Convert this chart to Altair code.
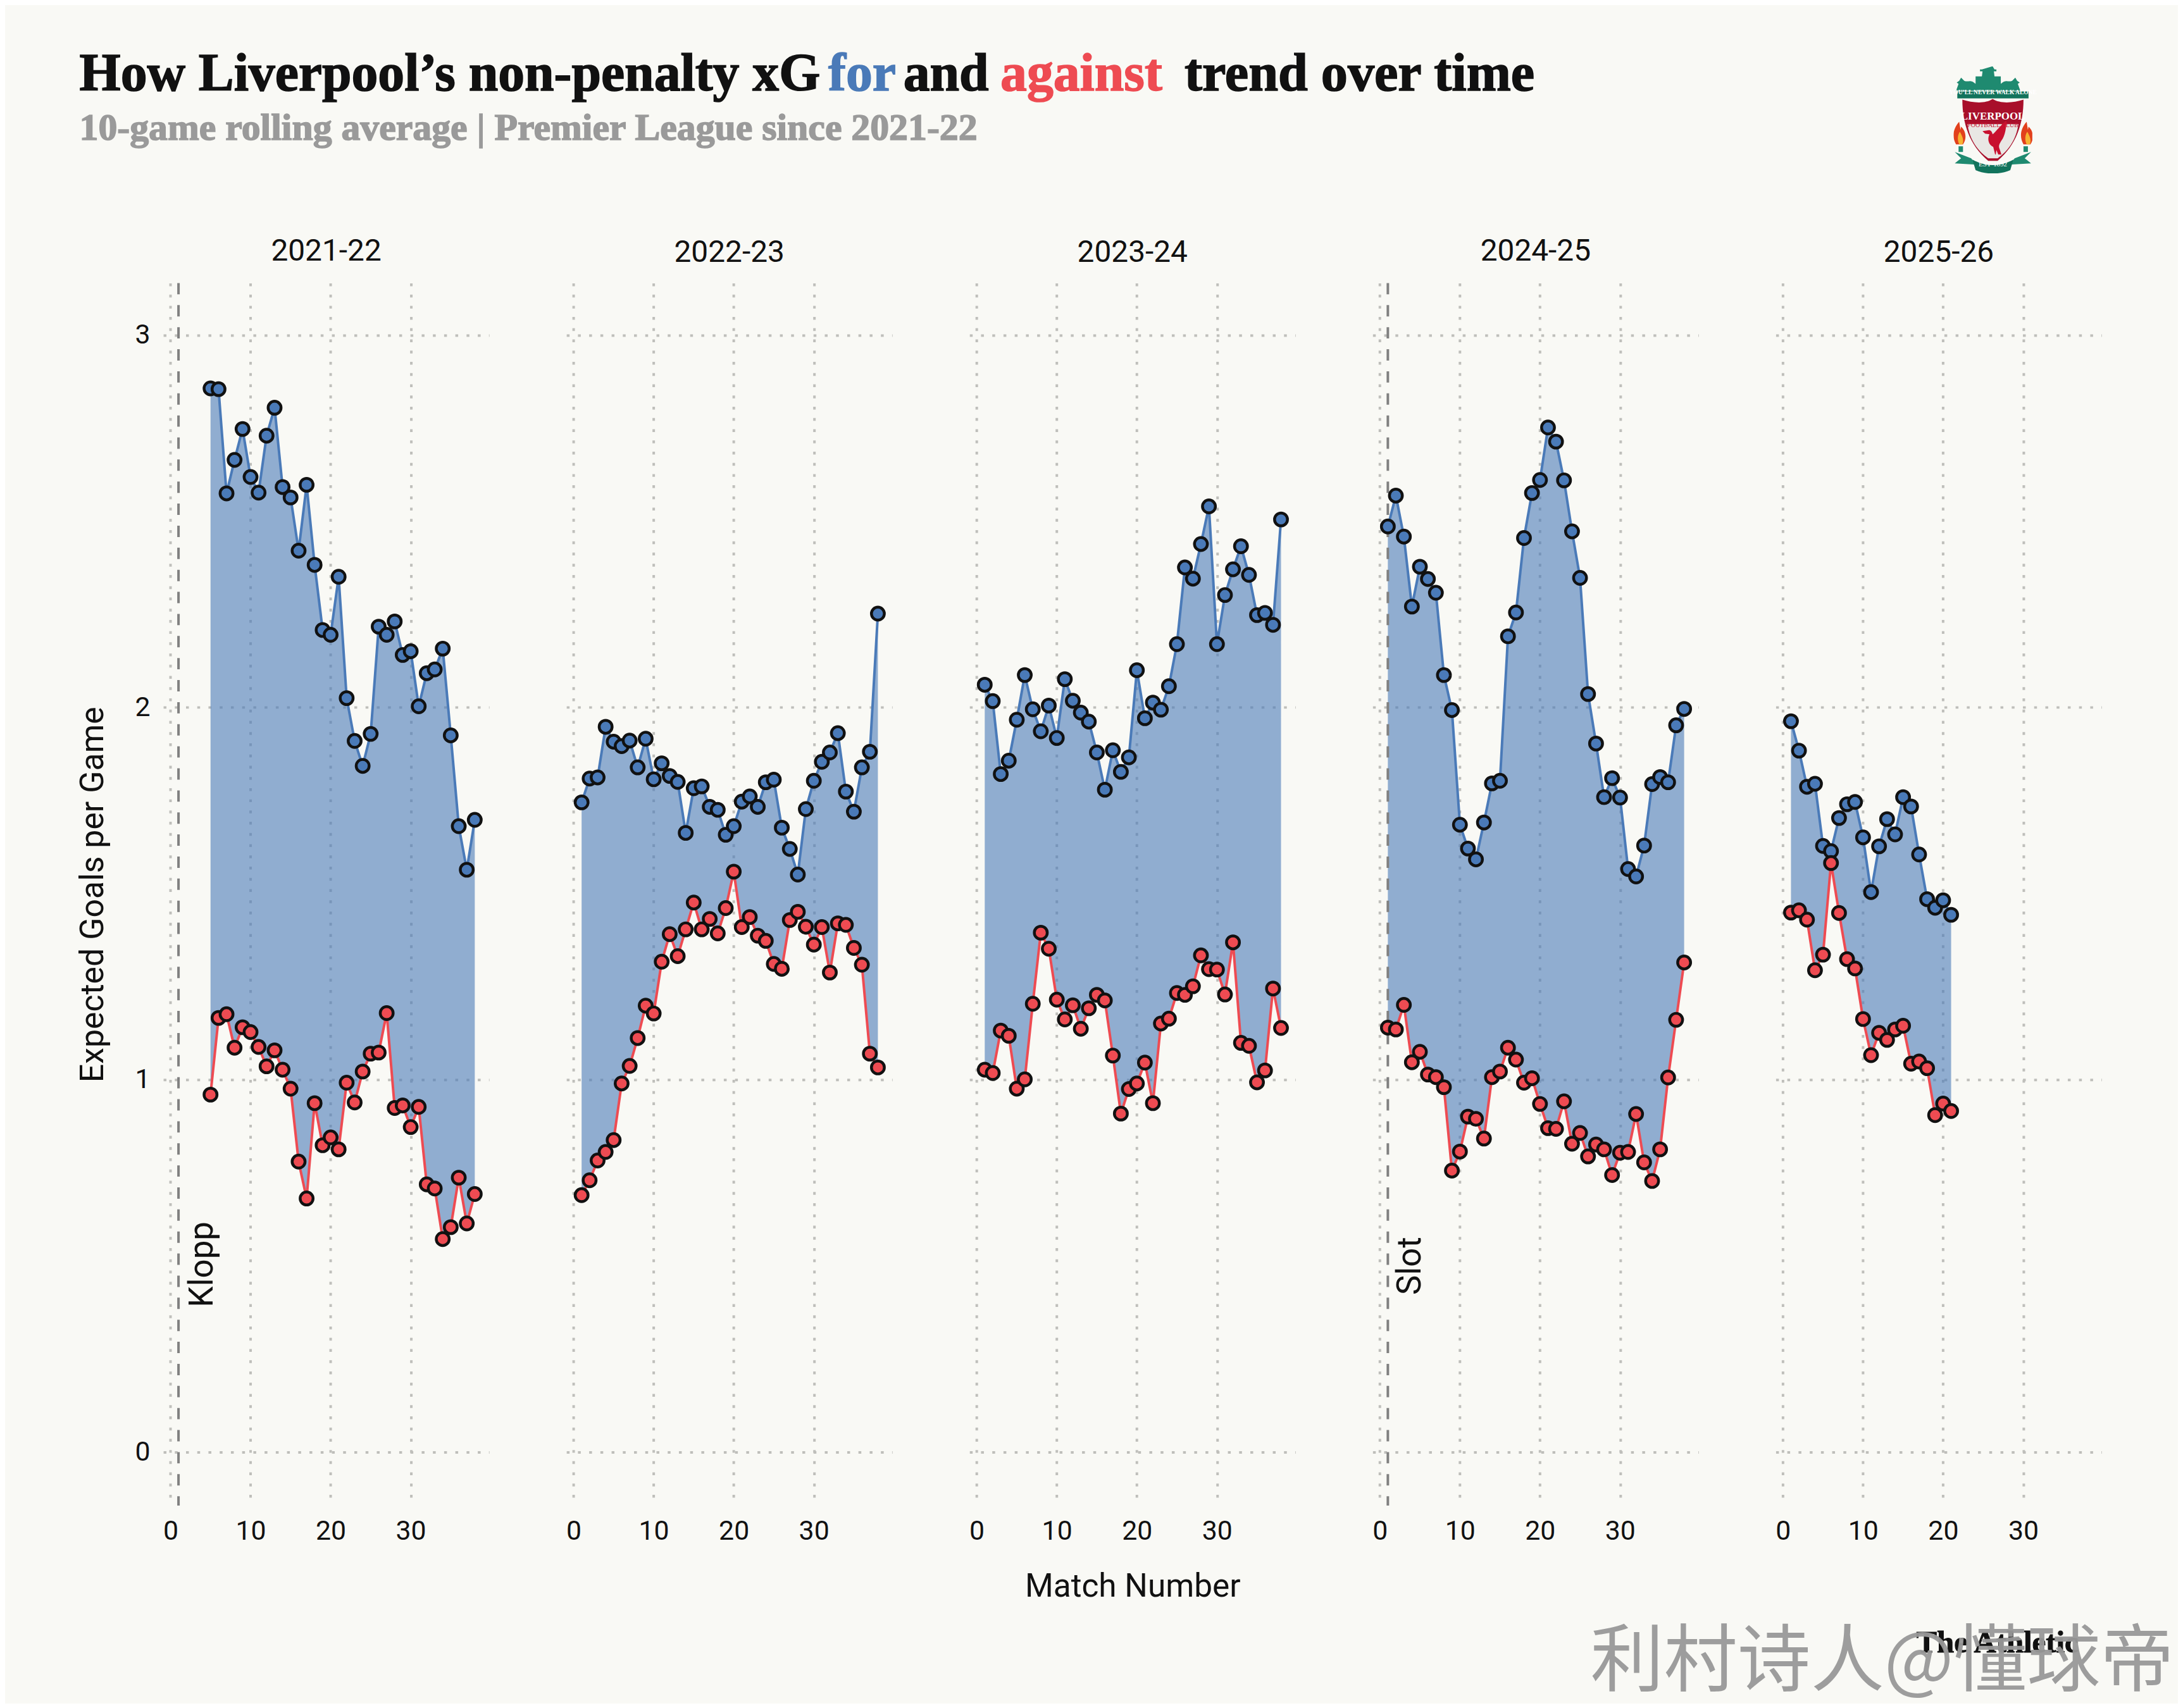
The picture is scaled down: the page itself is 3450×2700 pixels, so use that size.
import urllib.parse
import altair as alt
import pandas as pd

BG = "#F9F9F5"
BLUE = "#4A7AB8"
RED = "#EE4B52"
INK = "#111111"
GRID = "#BFBFBB"
BODY = "Roboto"
SLAB = "Liberation Serif"

seasons = ["2021-22", "2022-23", "2023-24", "2024-25", "2025-26"]
first_match = [5, 1, 1, 1, 1]

xg_for_2122 = [2.857,2.855,2.575,2.665,2.748,2.619,2.577,2.73,2.805,2.592,2.564,2.421,2.598,2.383,2.208,2.195,2.351,2.025,1.91,1.843,1.929,2.217,2.195,2.231,2.141,2.151,2.003,2.092,2.102,2.158,1.925,1.681,1.564,1.698]
xg_ag_2122 = [0.96,1.166,1.176,1.086,1.141,1.128,1.088,1.036,1.079,1.027,0.976,0.78,0.681,0.937,0.824,0.845,0.813,0.992,0.939,1.022,1.07,1.073,1.179,0.924,0.931,0.873,0.927,0.719,0.708,0.572,0.604,0.737,0.614,0.693]
xg_for_2223 = [1.745,1.809,1.812,1.948,1.908,1.896,1.911,1.839,1.916,1.807,1.85,1.816,1.8,1.663,1.783,1.788,1.733,1.725,1.658,1.681,1.747,1.761,1.733,1.799,1.806,1.677,1.62,1.551,1.727,1.803,1.854,1.879,1.931,1.774,1.72,1.839,1.881,2.252]
xg_ag_2223 = [0.69,0.73,0.783,0.806,0.838,0.99,1.037,1.112,1.199,1.178,1.317,1.391,1.332,1.404,1.476,1.404,1.432,1.393,1.461,1.559,1.41,1.437,1.387,1.373,1.311,1.298,1.429,1.451,1.411,1.363,1.41,1.288,1.42,1.416,1.354,1.309,1.07,1.033]
xg_for_2324 = [2.061,2.017,1.821,1.857,1.967,2.087,1.995,1.936,2.005,1.918,2.076,2.018,1.986,1.962,1.879,1.779,1.885,1.827,1.866,2.1,1.971,2.013,1.994,2.057,2.17,2.376,2.346,2.439,2.54,2.17,2.302,2.371,2.433,2.356,2.248,2.254,2.222,2.505]
xg_ag_2324 = [1.027,1.018,1.132,1.118,0.976,1.001,1.204,1.395,1.352,1.215,1.162,1.2,1.137,1.192,1.228,1.213,1.065,0.909,0.975,0.99,1.046,0.937,1.151,1.164,1.233,1.228,1.251,1.334,1.297,1.296,1.229,1.369,1.099,1.091,0.993,1.025,1.245,1.139]
xg_for_2425 = [2.486,2.569,2.459,2.271,2.378,2.345,2.308,2.087,1.993,1.685,1.621,1.592,1.691,1.796,1.803,2.191,2.255,2.455,2.576,2.611,2.752,2.714,2.61,2.473,2.348,2.036,1.903,1.759,1.81,1.758,1.566,1.546,1.629,1.794,1.813,1.799,1.952,1.996]
xg_ag_2425 = [1.14,1.135,1.201,1.047,1.075,1.014,1.007,0.98,0.756,0.807,0.901,0.895,0.842,1.007,1.022,1.086,1.054,0.992,1.004,0.935,0.87,0.868,0.942,0.828,0.857,0.794,0.826,0.813,0.744,0.804,0.806,0.908,0.778,0.728,0.813,1.006,1.161,1.315]
xg_for_2526 = [1.963,1.884,1.787,1.795,1.628,1.614,1.703,1.74,1.746,1.651,1.504,1.627,1.7,1.659,1.759,1.734,1.605,1.485,1.462,1.482,1.443]
xg_ag_2526 = [1.449,1.455,1.43,1.294,1.336,1.582,1.448,1.324,1.299,1.163,1.066,1.126,1.107,1.135,1.145,1.043,1.049,1.031,0.905,0.936,0.916]

series_for = [xg_for_2122, xg_for_2223, xg_for_2324, xg_for_2425, xg_for_2526]
series_ag = [xg_ag_2122, xg_ag_2223, xg_ag_2324, xg_ag_2425, xg_ag_2526]

manager_labels = {0: ("Klopp", 4.0, 0.504), 3: ("Slot", 3.85, 0.50)}

x_ticks = [0, 10, 20, 30]
y_ticks = [0, 1, 2, 3]
x_domain = [-0.9, 39.8]
y_domain = [-0.144, 3.14]

PANEL_W, PANEL_H = 517, 1940
HEADER_W = 3196

crest_svg = """<svg xmlns='http://www.w3.org/2000/svg' viewBox='0 0 125 170'>
<path d='M62 0 l3 5 h3 v3 h-4 l1 8 h10 v12 c8 -8 12 -2 18 -5 l5 -5 l3 5 l4 3 l-3 2 l4 11 H4 l4 -11 l-3 -2 l4 -3 l3 -5 l5 5 c6 3 10 -3 18 5 V16 h10 l1 -8 h-4 v-3 h3 z' fill='#1f8a70'/>
<rect x='6' y='40' width='113' height='11' fill='#12735c'/>
<path d='M14 53 C30 58 50 60 62 52 C75 60 95 58 111 53 C111 90 100 125 70 150 H55 C25 125 14 90 14 53 Z' fill='#a80f2a'/>
<path d='M22 92 H103 C99 118 86 135 70 146 H55 C39 135 26 118 22 92 Z' fill='#e9e7e4'/>
<path d='M66 140 l-3 -12 c-7 -3 -10 -12 -6 -20 l-7 -1 l-4 -4 l7 -1 c5 -2 8 1 9 6 c5 -4 12 -14 22 -22 c0 10 -2 24 -8 32 c-3 5 -5 8 -3 13 l3 9 h-5 l-3 -7 l-1 7 z' fill='#c8102e'/>
<path d='M9 88 c-11 12 -11 26 -5 36 h11 c7 -10 4 -22 -3 -28 l-1 5 z' fill='#e2401c'/>
<path d='M10 104 c-4 6 -4 14 -1 20 h5 c3 -6 0 -13 -4 -20 z' fill='#f6b332'/>
<path d='M116 88 c-11 12 -11 26 -5 36 h11 c7 -10 4 -22 -3 -28 l-1 5 z' fill='#e2401c'/>
<path d='M117 104 c-4 6 -4 14 -1 20 h5 c3 -6 0 -13 -4 -20 z' fill='#f6b332'/>
<rect x='8' y='127' width='7' height='9' fill='#1f8a70'/><rect x='111' y='127' width='7' height='9' fill='#1f8a70'/>
<path d='M2 136 L28 146 L36 156 L2 154 L12 146 Z' fill='#1f8a70'/>
<path d='M123 136 L97 146 L89 156 L123 154 L113 146 Z' fill='#1f8a70'/>
<path d='M30 148 C50 160 75 160 95 148 L90 165 C75 172 50 172 35 165 Z' fill='#12735c'/>
</svg>"""
crest_url = "data:image/svg+xml," + urllib.parse.quote(crest_svg)


def txt(s, x, y, size, color=INK, font=BODY, weight="normal", align="left", **kw):
    return (
        alt.Chart(pd.DataFrame({"t": [s]}))
        .mark_text(fontSize=size, color=color, font=font, fontWeight=weight, align=align, baseline="alphabetic", **kw)
        .encode(x=alt.value(x), y=alt.value(y), text="t:N")
    )


def panel(i):
    xs = list(range(first_match[i], first_match[i] + len(series_for[i])))
    df = pd.DataFrame({"match": xs, "xg_for": series_for[i], "xg_ag": series_ag[i]})
    xscale = alt.Scale(domain=x_domain, nice=False, zero=False)
    yscale = alt.Scale(domain=y_domain, nice=False, zero=False)
    grid_kw = dict(grid=True, gridColor=GRID, gridWidth=4, gridDash=[4.5, 13.3], domain=False, ticks=False)
    xaxis = alt.Axis(values=x_ticks, title="Match Number" if i == 2 else "", labelFontSize=43, labelFont=BODY,
                     labelColor=INK, labelPadding=20, titleFontSize=51.5, titleFont=BODY, titleFontWeight="normal",
                     titleColor=INK, titlePadding=40, labelAngle=0, **grid_kw)
    yaxis = alt.Axis(values=y_ticks, title="Expected Goals per Game" if i == 0 else "", labels=i == 0, labelFontSize=43,
                     labelFont=BODY, labelColor=INK, labelPadding=21, titleFontSize=52, titleFont=BODY,
                     titleFontWeight="normal", titleColor=INK, titlePadding=40, format="d", **grid_kw)
    base = alt.Chart(df)
    x = alt.X("match:Q", scale=xscale, axis=xaxis)
    xn = alt.X("match:Q", scale=xscale)
    area = base.mark_area(color=BLUE, opacity=0.6).encode(
        x=x, y=alt.Y("xg_for:Q", scale=yscale, axis=yaxis), y2="xg_ag:Q"
    )
    layers = [area]
    if i in manager_labels:
        name, lx, ly = manager_labels[i]
        rule_df = pd.DataFrame({"match": [1]})
        layers.append(alt.Chart(rule_df).mark_rule(color="#808080", strokeWidth=4, strokeDash=[18, 17]).encode(x=xn))
        lab_df = pd.DataFrame({"match": [lx], "v": [ly], "t": [name]})
        layers.append(
            alt.Chart(lab_df)
            .mark_text(angle=270, fontSize=53, font=BODY, color=INK, align="center", baseline="middle")
            .encode(x=xn, y=alt.Y("v:Q", scale=yscale), text="t:N")
        )
    for col, color in (("xg_for", BLUE), ("xg_ag", RED)):
        layers.append(base.mark_line(color=color, strokeWidth=4).encode(x=xn, y=alt.Y(f"{col}:Q", scale=yscale)))
    for col, color in (("xg_for", BLUE), ("xg_ag", RED)):
        layers.append(
            base.mark_point(filled=True, fill=color, stroke=INK, strokeWidth=4.5, size=420, opacity=1).encode(
                x=xn, y=alt.Y(f"{col}:Q", scale=yscale)
            )
        )
    return alt.layer(*layers).properties(
        width=PANEL_W,
        height=PANEL_H,
        title=alt.TitleParams(seasons[i], fontSize=48, font=BODY, fontWeight="normal", color=INK, anchor="middle", offset=24),
    )


logo_x, logo_y = 3147.5 - 258 + 13, 177
bold_kw = dict(weight="bold", font=SLAB, strokeWidth=1.6)
header = alt.layer(
    txt("How Liverpool\u2019s non-penalty xG", -133, 130, 84, stroke=INK, **bold_kw),
    txt("for", 1055, 130, 84, color=BLUE, stroke=BLUE, **bold_kw),
    txt("and", 1174, 130, 84, stroke=INK, **bold_kw),
    txt("against", 1328, 130, 84, color=RED, stroke=RED, **bold_kw),
    txt("trend over time", 1620, 130, 84.5, stroke=INK, **bold_kw),
    txt("10-game rolling average | Premier League since 2021-22", -133, 209, 60, color="#9A9A9A", stroke="#9A9A9A", **bold_kw),
    alt.Chart(pd.DataFrame({"u": [crest_url]})).mark_image(width=125, height=170).encode(
        x=alt.value(logo_x), y=alt.value(logo_y), url="u:N"
    ),
    txt("YOU\u2019LL NEVER WALK ALONE", logo_x, 136, 9.5, color="#FFFFFF", font=SLAB, weight="bold", align="center"),
    txt("LIVERPOOL", logo_x, 177, 17, color="#FFFFFF", font=SLAB, weight="bold", align="center"),
    txt("FOOTBALL CLUB", logo_x, 189, 10, color="#C8102E", font=SLAB, align="center"),
    txt("EST\u00b71892", logo_x, 251, 11, color="#FFFFFF", font=SLAB, align="center"),
).properties(width=HEADER_W, height=362)

footer = alt.layer(
    txt("The Athletic", 2781, 78, 49, weight="bold", font=SLAB, stroke=INK, strokeWidth=1),
    txt("\u5229\u6751\u8bd7\u4eba@\u61c2\u7403\u5e1d", 2264, 130, 116.5, color="#999999", font="Noto Sans CJK SC", opacity=0.95),
).properties(width=HEADER_W, height=148)

panels = alt.hconcat(*[panel(i) for i in range(5)], spacing=121.5)

chart = (
    alt.vconcat(header, panels, footer, spacing=0)
    .properties(background=BG, padding={"left": 112, "top": 0, "right": 0, "bottom": 0})
    .configure_view(strokeWidth=0)
)

chart.save("out.html", embed_options={"renderer": "svg", "actions": False})
